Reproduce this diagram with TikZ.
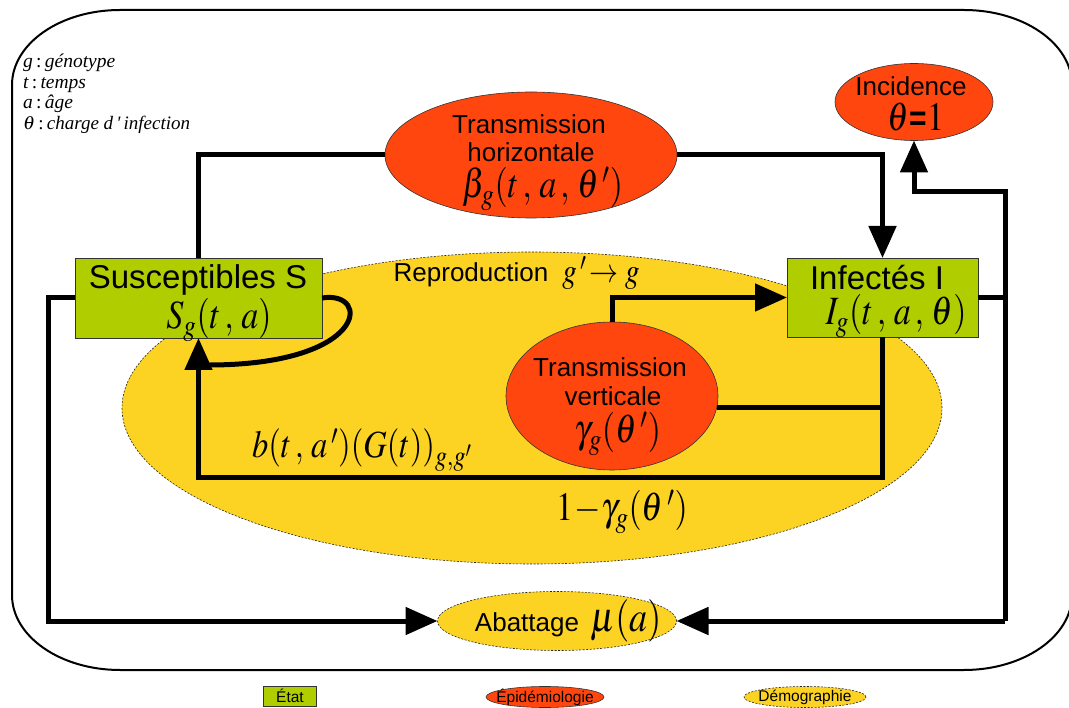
\documentclass[tikz,border=0pt]{standalone}
\usepackage{mathptmx}
\usepackage[no-math]{fontspec}
\usepackage{graphicx}
\setmainfont{Liberation Sans}
\newfontfamily\noteserif{Liberation Serif}
\usetikzlibrary{arrows.meta,shapes.geometric}

\definecolor{stategreen}{RGB}{176,205,0}
\definecolor{epired}{RGB}{255,70,14}
\definecolor{demoyellow}{RGB}{253,211,35}

% formula set at a given size, stretched vertically
\newcommand{\fml}[3][1.18]{\scalebox{1}[#1]{\fontsize{#2}{#2}\selectfont$#3$}}
\newcommand{\sep}{\,,\,}

\begin{document}
\begin{tikzpicture}[x=1pt,y=-1pt,
  flow/.style={line width=5pt},
  tip/.style={-{Triangle[length=32pt,width=27pt]}},
  state/.style={rectangle, draw=black!80, line width=0.6pt, fill=stategreen, inner sep=0pt, outer sep=0pt},
  epi/.style={ellipse, draw=black!80, line width=0.6pt, fill=epired, inner sep=0pt, outer sep=0pt},
  demo/.style={ellipse, draw=black!85, dash pattern=on 2pt off 1.5pt, line width=0.6pt, fill=demoyellow, inner sep=0pt, outer sep=0pt},
  word/.style={font=\fontsize{26}{28}\selectfont, inner sep=0pt, anchor=base},
  title/.style={font=\fontsize{33}{36}\selectfont, inner sep=0pt, anchor=base},
  formula/.style={inner sep=0pt, anchor=base},
  note/.style={font=\noteserif\itshape\fontsize{19.5}{21}\selectfont, inner sep=0pt, anchor=base west},
  key/.style={font=\fontsize{15.5}{15.5}\selectfont, inner sep=0pt}]
\useasboundingbox (0,0) rectangle (1069,708);

% outer frame, running off the right edge
\begin{scope}
\clip (0,0) rectangle (1069,708);
\draw[line width=2pt] (12,85) arc[start angle=180,end angle=270,x radius=108,y radius=75]
  -- (964,10) arc[start angle=270,end angle=360,x radius=108,y radius=75]
  -- (1072,595) arc[start angle=0,end angle=90,x radius=108,y radius=75]
  -- (120,670) arc[start angle=90,end angle=180,x radius=108,y radius=75] -- cycle;
\end{scope}

% notation
\node[note] (n1) at (23,68) {g\,\textup{:}\,génotype};
\node[note] (n2) at (23,89) {t\,\textup{:}\,temps};
\node[note] (n3) at (23,109) {a\,\textup{:}\,âge};
\node[note] (n4) at (23,130) {\fontsize{19}{19}\selectfont$\theta$\,\textup{:}\,charge d\,'\,infection};

% reproduction area
\node[demo, minimum width=820pt, minimum height=312pt] (repro) at (532,408) {};

% epidemiological processes
\node[epi, minimum width=292pt, minimum height=126pt] (th) at (531,155) {};
\node[epi, minimum width=212pt, minimum height=148pt] (tv) at (612,396) {};
\node[epi, minimum width=158pt, minimum height=77pt] (inc) at (914,102) {};

% culling
\node[demo, minimum width=239pt, minimum height=59pt] (abat) at (557,621) {};

% states
\node[state, minimum width=247pt, minimum height=80pt] (S) at (198.5,298) {};
\node[state, minimum width=191pt, minimum height=79pt] (I) at (882.5,297.5) {};

% connectors
\coordinate (lowrow) at (0,478);
\coordinate (lft) at (48,0);
\coordinate (rgt) at (1005,192);
\draw[flow] (S.east) .. controls (372,290) and (368,366) .. (205,365);
\draw[flow] (S.north) |- (th.west);
\draw[flow,tip] (th.east) -| (I.north);
\draw[flow,tip] (I.south) |- (S.south |- lowrow) -- (S.south);
\draw[flow] (tv.-6) -- (tv.-6 -| I.south);
\draw[flow,tip] (tv.north) |- (I.west);
\draw[flow] (I.east) -- (I.east -| rgt);
\draw[flow,tip] (rgt |- abat.east) -- (rgt) -| (inc.south);
\draw[flow,tip] (rgt |- abat.east) -- (abat.east);
\draw[flow,tip] (S.west) -| (lft |- abat.west) -- (abat.west);

% labels
\node[title] (St) at (198,289) {Susceptibles S};
\node[formula] (Sf) at (219,329) {\fml{34}{S_g(t\sep a)}};
\node[title] (It) at (877,290) {Infectés I};
\node[formula] (If) at (896,325) {\fml{34}{I_g(t\sep a\sep \theta)}};

\node[word] (th1) at (529,134) {Transmission};
\node[word] (th2) at (531,162) {horizontale};
\node[formula] (thf) at (543,198) {\fml{34}{\beta_g(t\sep a\sep \theta\,')}};

\node[word] (tv1) at (610,377) {Transmission};
\node[word] (tv2) at (613,406) {verticale};
\node[formula] (tvf) at (618,443) {\fml{34}{\gamma_g(\theta\,')}};

\node[word] (inc1) at (911,96) {Incidence};
\node[formula] (incf) at (916,131) {\fml{34}{\theta\mbox{\bfseries\fontsize{30}{30}\selectfont=}1}};

\node[word] (rp1) at (471,282) {Reproduction};
\node[formula] (rpf) at (601,283) {\fml{29}{g\,'\!\rightarrow g}};

\node[formula] (bf) at (362,458) {\fml{32.5}{b(t\sep a\,')(G(t))_{g,g'}}};
\node[formula] (gf) at (622,521) {\fml{34}{1\!-\!\gamma_g(\theta\,')}};

\node[word] (ab1) at (527,631) {Abattage};
\node[formula] (abf) at (626,631) {\fml{36}{\mu(a)}};

% key
\node[state, minimum width=53pt, minimum height=20pt] (k1) at (290,696) {};
\node[key] (k1t) at (k1) {État};
\node[epi, minimum width=118pt, minimum height=21pt] (k2) at (545,697) {};
\node[key] (k2t) at (k2) {Épidémiologie};
\node[demo, minimum width=122pt, minimum height=21pt] (k3) at (805,697) {};
\node[key] (k3t) at (k3) {Démographie};
\end{tikzpicture}
\end{document}
